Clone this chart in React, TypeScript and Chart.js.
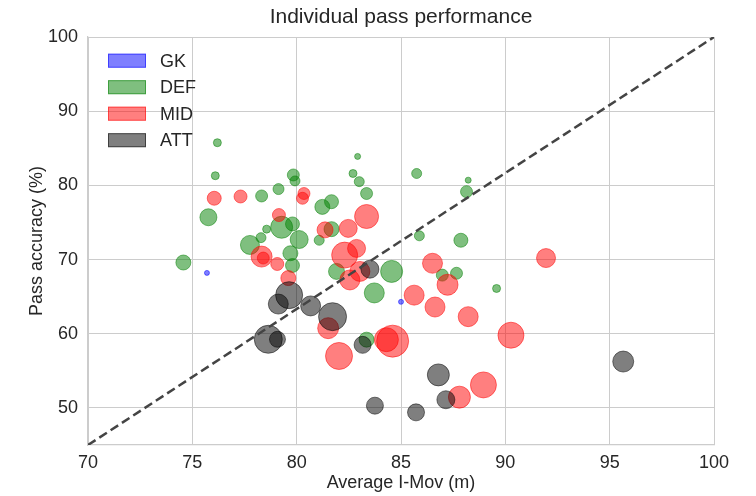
import React, { useEffect, useRef } from "react";
import { Chart, registerables } from "chart.js";
Chart.register(...registerables);

const FONT = "'Liberation Sans', Arial, sans-serif";

const chartTitle = "Individual pass performance";
const xLabel = "Average I-Mov (m)";
const yLabel = "Pass accuracy (%)";

const xTicks = [70, 75, 80, 85, 90, 95, 100];
const yTicks = [50, 60, 70, 80, 90, 100];

const gkX = [75.7, 85.0];
const gkY = [68.2, 64.3];
const gkR = [2.5, 2.5];

const defX = [76.2, 76.1, 75.77, 74.57, 78.32, 79.13, 79.84, 79.92, 79.28, 78.56, 78.29, 77.76, 79.8, 80.12, 79.7, 79.8, 81.23, 81.67, 81.08, 81.67, 82.92, 82.7, 83.0, 83.35, 85.75, 88.22, 88.14, 85.88, 87.87, 84.55, 81.91, 86.98, 87.66, 83.72, 89.58, 83.35];
const defY = [85.75, 81.3, 75.7, 69.6, 78.57, 79.5, 81.4, 80.6, 74.35, 74.1, 72.95, 71.97, 74.8, 72.7, 70.85, 69.2, 77.1, 77.8, 72.6, 74.1, 83.9, 81.6, 80.5, 78.9, 81.6, 80.7, 79.15, 73.2, 72.6, 68.4, 68.4, 67.9, 68.15, 65.5, 66.1, 59.2];
const defR = [4, 4, 8.5, 7.5, 6, 5.5, 6, 5, 11, 4, 5, 9.5, 7, 9, 7.5, 7, 7.5, 7, 5, 7.5, 3, 4, 5, 6, 5, 3, 6, 5, 7, 11, 8, 6, 6, 10, 4, 7.5];

const midX = [76.05, 77.31, 79.15, 80.35, 80.28, 78.32, 78.4, 79.07, 79.6, 81.36, 82.47, 83.35, 82.3, 82.87, 82.55, 83.03, 81.51, 82.03, 86.51, 87.23, 85.63, 86.63, 88.22, 84.6, 84.3, 87.8, 88.95, 90.27, 91.95];
const midY = [78.26, 78.5, 76.0, 78.9, 78.26, 70.4, 70.2, 69.4, 67.5, 74.0, 74.2, 75.8, 70.6, 71.5, 67.25, 68.4, 60.75, 57.0, 69.5, 66.6, 65.2, 63.6, 62.3, 59.0, 59.2, 51.45, 53.1, 59.8, 70.2];
const midR = [7, 6.5, 6.5, 6, 6, 10.5, 6, 6.5, 7.5, 8, 9, 12, 13, 9, 10, 10, 10.5, 13.5, 10, 10.5, 10, 10, 10, 16, 12, 11, 13, 13, 9.5];

const attX = [79.64, 79.12, 80.67, 81.72, 78.64, 79.08, 83.16, 83.51, 83.75, 85.72, 86.79, 87.15, 95.65];
const attY = [65.2, 64.0, 63.75, 62.3, 59.25, 59.25, 58.5, 68.7, 50.3, 49.4, 54.45, 51.1, 56.25];
const attR = [13.5, 10, 10, 14, 14, 8, 8.5, 9, 8.5, 8.5, 11, 9, 10.5];

const diagX = [70, 100];
const diagY = [45, 100];

function toPoints(xs: number[], ys: number[], rs: number[]) {
  return xs.map((x, i) => ({ x, y: ys[i], r: rs[i] }));
}

const legendPlugin = {
  id: "patchLegend",
  afterDraw(chart: any) {
    const ctx = chart.ctx;
    const area = chart.chartArea;
    ctx.save();
    let row = 0;
    chart.data.datasets.forEach((ds: any) => {
      if (ds.type === "line") return;
      const cy = area.top + 23.7 + row * 26.5;
      const x0 = area.left + 20;
      ctx.fillStyle = ds.backgroundColor;
      ctx.fillRect(x0, cy - 7, 38, 14);
      ctx.strokeStyle = ds.borderColor;
      ctx.lineWidth = 1;
      ctx.strokeRect(x0 + 0.5, cy - 6.5, 37, 13);
      ctx.fillStyle = "#262626";
      ctx.font = `18px ${FONT}`;
      ctx.textBaseline = "middle";
      ctx.textAlign = "left";
      ctx.fillText(ds.label, x0 + 52, cy + 1);
      row++;
    });
    ctx.restore();
  },
};

function bubbleSet(label: string, color: string, xs: number[], ys: number[], rs: number[], order: number) {
  return {
    type: "bubble" as const,
    label,
    data: toPoints(xs, ys, rs),
    backgroundColor: color,
    borderColor: color,
    borderWidth: 1,
    hoverRadius: 0,
    order,
  };
}

export default function App() {
  const ref = useRef<HTMLCanvasElement>(null);
  useEffect(() => {
    if (!ref.current) return;
    const chart = new Chart(ref.current, {
      type: "bubble",
      data: {
        datasets: [
          {
            type: "line",
            label: "diag",
            data: diagX.map((x, i) => ({ x, y: diagY[i] })),
            borderColor: "#444444",
            borderWidth: 2.5,
            borderDash: [9, 4.5],
            pointRadius: 0,
            fill: false,
            order: 0,
          } as any,
          bubbleSet("GK", "rgba(0,0,255,0.5)", gkX, gkY, gkR, 4),
          bubbleSet("DEF", "rgba(0,128,0,0.5)", defX, defY, defR, 3),
          bubbleSet("MID", "rgba(255,0,0,0.5)", midX, midY, midR, 2),
          bubbleSet("ATT", "rgba(0,0,0,0.5)", attX, attY, attR, 1),
        ],
      },
      options: {
        responsive: false,
        animation: false,
        devicePixelRatio: 1,
        layout: { padding: { top: 0, right: 42, left: 0, bottom: 0 } },
        plugins: {
          legend: { display: false },
          tooltip: { enabled: false },
          title: {
            display: true,
            text: chartTitle,
            fullSize: false,
            color: "#262626",
            font: { family: FONT, size: 21, weight: "normal", lineHeight: 1.2 },
            padding: { top: 4.4, bottom: 7.4 },
          },
        },
        scales: {
          x: {
            type: "linear",
            min: 70,
            max: 100,
            afterBuildTicks: (s: any) => { s.ticks = xTicks.map((v) => ({ value: v })); },
            afterFit: (s: any) => { s.height = 51; },
            grid: { color: "#cccccc", lineWidth: 1, drawTicks: false },
            border: { color: "#cccccc", width: 1.25 },
            ticks: { color: "#262626", font: { family: FONT, size: 18 }, padding: 7 },
            title: { display: true, text: xLabel, color: "#262626", font: { family: FONT, size: 18, lineHeight: 1.2 }, padding: { top: 0, bottom: 2 } },
          },
          y: {
            type: "linear",
            min: 45,
            max: 100,
            afterBuildTicks: (s: any) => { s.ticks = yTicks.map((v) => ({ value: v })); },
            afterFit: (s: any) => { s.width = 88; },
            grid: { color: "#cccccc", lineWidth: 1, drawTicks: false },
            border: { color: "#cccccc", width: 1.25 },
            ticks: { color: "#262626", font: { family: FONT, size: 18 }, padding: 10 },
            title: { display: true, text: yLabel, color: "#262626", font: { family: FONT, size: 18, lineHeight: 1.2 }, padding: { top: 26, bottom: 0 } },
          },
        },
      },
      plugins: [legendPlugin],
    } as any);
    return () => chart.destroy();
  }, []);
  return (
    <div style={{ position: "absolute", left: 0, top: 0, width: 756, height: 496, background: "#fff" }}>
      <canvas ref={ref} width={756} height={496} style={{ display: "block" }} />
    </div>
  );
}
